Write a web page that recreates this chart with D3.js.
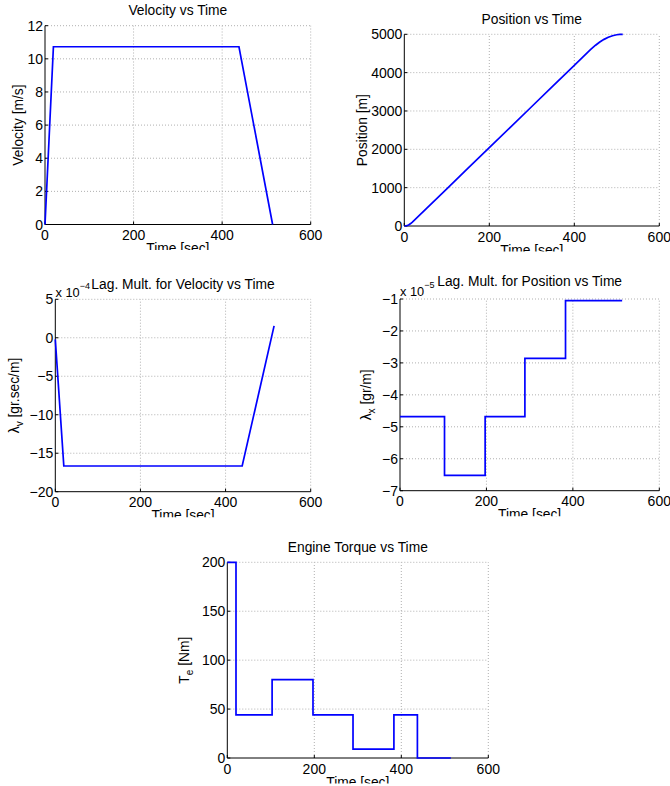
<!DOCTYPE html>
<html><head><meta charset="utf-8">
<script src="https://cdn.jsdelivr.net/npm/d3@7"></script>
<style>
html,body{margin:0;padding:0;background:#fff;}
svg{display:block;}
text{font-family:"Liberation Sans",Arial,Helvetica,sans-serif;fill:#000;}
</style></head>
<body><svg id="fig" width="670" height="786"></svg>
<script>
// ---------- data ----------
const xTicks = [0, 200, 400, 600];

const velTime = [0, 19, 438, 514];
const velocity = [0, 10.73, 10.73, 0];
const velTicks = [0, 2, 4, 6, 8, 10, 12];

const posTime = [0, 5, 10, 15, 19, 50, 100, 150, 200, 250, 300, 350, 400, 438, 450, 460, 470, 480, 490, 500, 507, 514];
const position = [0, 7, 28, 63, 102, 434, 971, 1508, 2044, 2581, 3117, 3654, 4190, 4598, 4715, 4800, 4868, 4922, 4962, 4988, 4998, 5000];
const posTicks = [0, 1000, 2000, 3000, 4000, 5000];

const lamVTime = [0, 20, 439, 514];
const lambdaV = [-0.2, -16.66, -16.66, 1.55];      // x 10^-4
const lamVTicks = [-20, -15, -10, -5, 0, 5];

const lamXTime = [0, 103, 197, 289, 383, 514];
const lambdaX = [-4.68, -6.52, -4.68, -2.86, -1.05, -1.05]; // x 10^-5
const lamXTicks = [-7, -6, -5, -4, -3, -2, -1];

const torqTime = [0, 20, 103, 197, 289, 383, 437, 514];
const torque = [200, 44, 80, 44, 9, 44, 0, 0];
const torqTicks = [0, 50, 100, 150, 200];

// ---------- drawing ----------
const svg = d3.select("#fig");
const FS = 14;
const fmt = v => (v < 0 ? "\u2212" + Math.abs(v) : String(v));

function panel(cfg) {
  const g = svg.append("g");
  const x = d3.scaleLinear().domain([0, 600]).range([cfg.left, cfg.right]);
  const y = d3.scaleLinear().domain(cfg.yDomain).range([cfg.bottom, cfg.top]);

  // grid
  const grid = g.append("g").attr("stroke", "#b0b0b0").attr("stroke-width", 1).attr("stroke-dasharray", "1,2");
  xTicks.filter(t => t !== 0).forEach(t => {
    grid.append("line").attr("x1", x(t)).attr("x2", x(t)).attr("y1", cfg.bottom).attr("y2", cfg.top);
  });
  cfg.yTicks.filter(t => t !== cfg.yDomain[0]).forEach(t => {
    grid.append("line").attr("x1", cfg.left).attr("x2", cfg.right).attr("y1", y(t)).attr("y2", y(t));
  });

  const line = d3.line().x(d => x(d[0])).y(d => y(d[1]));
  if (cfg.step) line.curve(d3.curveStepAfter);
  const pts = cfg.t.map((t, i) => [t, cfg.v[i]]);

  // axes (left and bottom only)
  const ax = g.append("g").attr("stroke", "#000").attr("stroke-width", 1);
  ax.append("line").attr("x1", cfg.left).attr("x2", cfg.left).attr("y1", cfg.bottom).attr("y2", cfg.top);
  ax.append("line").attr("x1", cfg.left).attr("x2", cfg.right).attr("y1", cfg.bottom).attr("y2", cfg.bottom);
  xTicks.forEach(t => ax.append("line").attr("x1", x(t)).attr("x2", x(t)).attr("y1", cfg.bottom).attr("y2", cfg.bottom - 3));
  cfg.yTicks.forEach(t => ax.append("line").attr("x1", cfg.left).attr("x2", cfg.left + 3).attr("y1", y(t)).attr("y2", y(t)));

  g.append("path").datum(pts).attr("d", line).attr("fill", "none")
    .attr("stroke", "#0000ff").attr("stroke-width", 1.7).attr("stroke-linejoin", "miter");

  // tick labels
  xTicks.forEach(t => g.append("text").attr("x", x(t)).attr("y", cfg.bottom + 15.5)
    .attr("text-anchor", "middle").attr("font-size", FS).text(fmt(t)));
  cfg.yTicks.forEach(t => g.append("text").attr("x", cfg.left - 2).attr("y", y(t)).attr("dy", "0.36em")
    .attr("text-anchor", "end").attr("font-size", FS).text(fmt(t)));

  // title
  g.append("text").attr("x", (cfg.left + cfg.right) / 2).attr("y", cfg.titleY)
    .attr("text-anchor", "middle").attr("font-size", 13.8).text(cfg.title);

  // x label (clipped like the reference)
  const cid = "clip" + cfg.id;
  svg.append("clipPath").attr("id", cid).append("rect")
    .attr("x", cfg.left - 40).attr("y", cfg.bottom).attr("width", cfg.right - cfg.left + 80).attr("height", 25.5);
  g.append("text").attr("clip-path", `url(#${cid})`).attr("x", (cfg.left + cfg.right) / 2).attr("y", cfg.bottom + 28.5)
    .attr("text-anchor", "middle").attr("font-size", 13.8).text("Time [sec]");

  // y label
  const yl = g.append("text").attr("font-size", 13.8).attr("text-anchor", "middle")
    .attr("transform", `translate(${cfg.ylabelX},${(cfg.top + cfg.bottom) / 2}) rotate(-90)`);
  if (cfg.ysub) {
    yl.append("tspan").text(cfg.ymain);
    yl.append("tspan").attr("font-size", 10).attr("dy", 4).text(cfg.ysub);
    yl.append("tspan").attr("dy", -4).text(" " + cfg.yrest);
  } else {
    yl.text(cfg.ymain);
  }

  // exponent
  if (cfg.exp) {
    const e = g.append("text").attr("x", cfg.expX).attr("y", cfg.expY).attr("font-size", 12.8);
    e.append("tspan").text("x 10");
    e.append("tspan").attr("font-size", 9).attr("dy", -8).text("\u2212" + cfg.exp);
  }
}

panel({id: 1, left: 45, right: 310.7, top: 25.7, bottom: 224.5, yDomain: [0, 12], yTicks: velTicks,
  t: velTime, v: velocity, title: "Velocity vs Time", titleY: 14.5, ylabelX: 23, ymain: "Velocity [m/s]"});
panel({id: 2, left: 404.3, right: 659.3, top: 34.3, bottom: 226, yDomain: [0, 5000], yTicks: posTicks,
  t: posTime, v: position, title: "Position vs Time", titleY: 24, ylabelX: 367, ymain: "Position [m]"});
panel({id: 3, left: 55.3, right: 310.7, top: 299.3, bottom: 491.7, yDomain: [-20, 5], yTicks: lamVTicks,
  t: lamVTime, v: lambdaV, title: "Lag. Mult. for Velocity vs Time", titleY: 289, ylabelX: 18.5,
  ymain: "\u03bb", ysub: "v", yrest: "[gr.sec/m]", exp: "4", expX: 55.5, expY: 297});
panel({id: 4, left: 400, right: 659.3, top: 299, bottom: 490.7, yDomain: [-7, -1], yTicks: lamXTicks,
  t: lamXTime, v: lambdaX, step: true, title: "Lag. Mult. for Position vs Time", titleY: 286, ylabelX: 371,
  ymain: "\u03bb", ysub: "x", yrest: "[gr/m]", exp: "5", expX: 400, expY: 295.5});
panel({id: 5, left: 227.3, right: 488.3, top: 562.3, bottom: 758, yDomain: [0, 200], yTicks: torqTicks,
  t: torqTime, v: torque, step: true, title: "Engine Torque vs Time", titleY: 552, ylabelX: 188.5,
  ymain: "T", ysub: "e", yrest: "[Nm]"});
</script></body></html>
